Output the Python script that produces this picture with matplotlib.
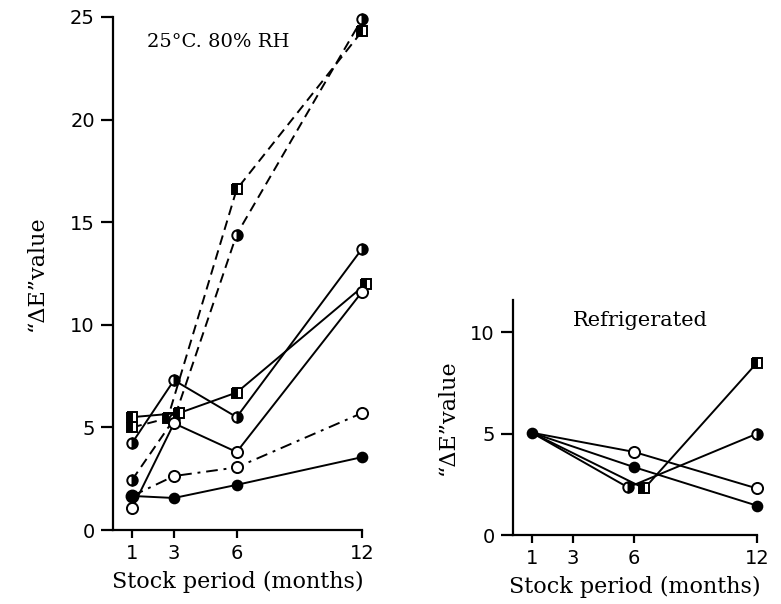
import matplotlib.pyplot as plt

# stock period (months)
months = [1, 3, 6, 12]
months_fridge = [1, 6, 12]

# 25 C, 80 % RH
sq_solid = [5.5, 5.7, 6.7, 12.0]
sq_dash = [5.0, 5.45, 16.6, 24.3]
half_solid = [4.25, 7.3, 5.5, 13.7]
half_dash = [2.45, 5.4, 14.4, 24.9]
open_solid = [1.07, 5.2, 3.8, 11.6]
open_dash = [1.66, 2.63, 3.05, 5.7]
filled_solid = [1.66, 1.56, 2.2, 3.55]

# refrigerated
r_open = [5.05, 4.1, 2.3]
r_filled = [5.05, 3.35, 1.45]
r_half = [5.05, 2.35, 5.0]
r_sq = [5.05, 2.3, 8.5]

left_ticks = [0, 5, 10, 15, 20, 25]
right_ticks = [0, 5, 10]

serif = 'DejaVu Serif'
sans = 'DejaVu Sans'

marks = {
    'sq': dict(marker='s', fillstyle='left', markerfacecolor='black',
               markerfacecoloralt='white', markersize=7),
    'half': dict(marker='o', fillstyle='right', markerfacecolor='black',
                 markerfacecoloralt='white', markersize=7.5),
    'open': dict(marker='o', markerfacecolor='white', markersize=8),
    'filled': dict(marker='o', markerfacecolor='black', markersize=7),
}
solid = '-'
dash = (0, (5, 3))
dashdot = (0, (6, 3, 1.5, 3))


def draw(ax, x, y, kind, ls, shift=None, every=None, z=3):
    xs = list(x)
    if shift:
        for i, d in shift.items():
            xs[i] = xs[i] + d
    ax.plot(xs, y, color='black', lw=1.4, linestyle=ls, markeredgecolor='black',
            markeredgewidth=1.4, markevery=every, clip_on=False, zorder=z,
            **marks[kind])


def style(ax, ticks, top):
    for s in ['top', 'right']:
        ax.spines[s].set_visible(False)
    for s in ['left', 'bottom']:
        ax.spines[s].set_linewidth(1.6)
    ax.set_xlim(0.08, 12)
    ax.set_ylim(0, top)
    ax.set_xticks(months)
    ax.set_yticks(ticks)
    ax.tick_params(axis='y', direction='out', length=9, width=1.6, labelsize=14, pad=4)
    ax.tick_params(axis='x', direction='out', length=6, width=1.6, labelsize=14, pad=4)
    for lab in ax.get_xticklabels() + ax.get_yticklabels():
        lab.set_fontfamily(sans)
    ax.set_xlabel('Stock period (months)', fontsize=16, fontfamily=serif, labelpad=6)


fig = plt.figure(figsize=(7.81, 6.04), dpi=100)

ax1 = fig.add_axes([0.1447, 0.1225, 0.3188, 0.8494])
draw(ax1, months, sq_dash, 'sq', dash, shift={1: -0.3})
draw(ax1, months, half_dash, 'half', dash)
draw(ax1, months, open_dash, 'open', dashdot, every=[1, 2, 3])
draw(ax1, months, sq_solid, 'sq', solid, shift={1: 0.25, 3: 0.2})
draw(ax1, months, half_solid, 'half', solid)
draw(ax1, months, open_solid, 'open', solid)
draw(ax1, months, filled_solid, 'filled', solid, z=4)
ax1.plot([months[0]], [filled_solid[0]], 'o', color='black', markersize=9,
         clip_on=False, zorder=5)
style(ax1, left_ticks, 25)
ax1.set_ylabel('“ΔE”value', fontsize=16, fontfamily=serif, labelpad=16)
ax1.text(1.7, 23.8, '25°C. 80% RH', fontsize=14, fontfamily=serif, va='center')

ax2 = fig.add_axes([0.6568, 0.1142, 0.3124, 0.3891])
draw(ax2, months_fridge, r_open, 'open', solid, every=[1, 2])
draw(ax2, months_fridge, r_half, 'half', solid, shift={1: -0.3}, every=[1, 2])
draw(ax2, months_fridge, r_sq, 'sq', solid, shift={1: 0.5}, every=[1, 2])
draw(ax2, months_fridge, r_filled, 'filled', solid, z=4)
style(ax2, right_ticks, 11.6)
ax2.set_ylabel('“ΔE”value', fontsize=16, fontfamily=serif, labelpad=8)
ax2.text(3.0, 10.6, 'Refrigerated', fontsize=15, fontfamily=serif, va='center')

fig.savefig('out.png', dpi=100)
